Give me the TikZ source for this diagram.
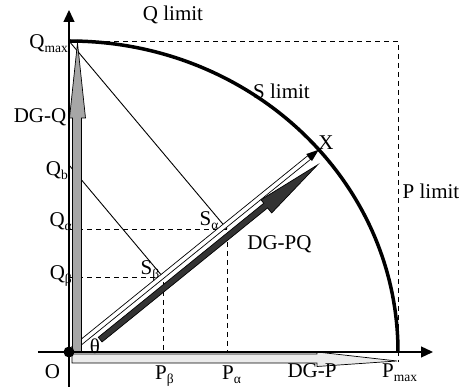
\documentclass[tikz,border=0pt]{standalone}
\usepackage{fontspec}
\setmainfont{Liberation Serif}
\usetikzlibrary{arrows.meta}
\newcommand\sbs[1]{\raisebox{-4pt}{\fontsize{13.5}{13.5}\selectfont #1}}
\begin{document}
\begin{tikzpicture}[x=1pt,y=1pt,font=\fontsize{21}{24}\selectfont,
  lbl/.style={inner sep=0pt},
  dsh/.style={dash pattern=on 5pt off 4pt,line width=0.8pt},
  thinline/.style={line width=0.9pt},
  axis/.style={line width=1.3pt,-{Triangle[length=12pt,width=11pt]}},
  outl/.style={draw=black,line width=0.7pt}]
\useasboundingbox (-69,-35) rectangle (394,352);
\coordinate (O) at (0,0);
\coordinate (Qmax) at (0,311);
\coordinate (Pmax) at (329,0);
\coordinate (Qb) at (0,187);
\coordinate (Sa) at (158,123);
\coordinate (Sb) at (94,75);
\coordinate (Qa) at (0,123);
\coordinate (Qbe) at (0,75);
\coordinate (Pa) at (158,0);
\coordinate (Pb) at (94,0);
\coordinate (C) at (329,311);
\coordinate (Cb) at (329,-10);
\coordinate (Xl) at (-31,0);
\coordinate (Xr) at (364,0);
\coordinate (Yb) at (0,-35);
\coordinate (Yt) at (0,342);
% dashed construction lines
\draw[dsh] (Qmax) -- (C) -- (Cb);
\draw[dsh] (Qa) -- (Sa) -- (Pa);
\draw[dsh] (Qbe) -- (Sb) -- (Pb);
% thin projection lines
\draw[thinline] (Qmax) -- (Sa);
\draw[thinline] (Qb) -- (Sb);
% DG-PQ and the OX arrow
\begin{scope}[rotate=39]
  \filldraw[fill=black!80,outl] (32,-13) -- (245,-13) -- (245,-19.5) -- (311,-11)
     -- (245,-2.5) -- (245,-7) -- (32,-7) -- cycle;
  \filldraw[fill=white,outl] (0,-2.3) rectangle (309,2.3);
  \fill (309,-4.5) -- (321.5,0) -- (309,4.5) -- cycle;
  \coordinate (X) at (321.5,0);
\end{scope}
% DG-Q
\filldraw[fill=black!35,outl] (3.5,0) -- (3.5,234) -- (0.5,234) -- (8.5,309)
   -- (16.5,234) -- (12.5,234) -- (12.5,0) -- cycle;
% DG-P
\filldraw[fill=black!8,outl] (3,-2) -- (248,-2) -- (248,0) -- (328,-9)
   -- (248,-14.5) -- (248,-11) -- (3,-11) -- cycle;
% S limit arc
\draw[line width=3.5pt] (Qmax) arc[start angle=90,end angle=0,x radius=329,y radius=311];
% axes
\draw[axis] (Xl) -- (Xr);
\draw[axis] (Yb) -- (Yt);
\fill (O) circle (5.5);
% labels
\node[lbl] (ql) at (104,337) {Q limit};
\node[lbl] (sl) at (212.5,261) {S limit};
\node[lbl] (xl) at (257,209) {X};
\node[lbl] (pl) at (362,161) {P limit};
\node[lbl] (dgq) at (-29,234.5) {DG-Q};
\node[lbl,anchor=base east] (lqmax) at (-1,303) {Q\sbs{max}};
\node[lbl,anchor=base east] (lqb) at (-1,176) {Q\sbs{b}};
\node[lbl,anchor=base east] (lqa) at (3,125) {Q\sbs{α}};
\node[lbl,anchor=base east] (lqbe) at (3,72) {Q\sbs{β}};
\node[lbl,anchor=base] (lsa) at (140,126) {S\sbs{α}};
\node[lbl,anchor=base] (lsb) at (81,77) {S\sbs{β}};
\node[lbl] (dgpq) at (210.5,108) {DG-PQ};
\node[lbl] (th) at (26,6) {θ};
\node[lbl] (lo) at (-16.5,-19.5) {O};
\node[lbl,anchor=base west] (lpb) at (86,-28) {P\sbs{β}};
\node[lbl,anchor=base west] (lpa) at (153,-28) {P\sbs{α}};
\node[lbl] (dgp) at (243,-19) {DG-P};
\node[lbl,anchor=base west] (lpmax) at (313,-26) {P\sbs{max}};
\end{tikzpicture}
\end{document}
